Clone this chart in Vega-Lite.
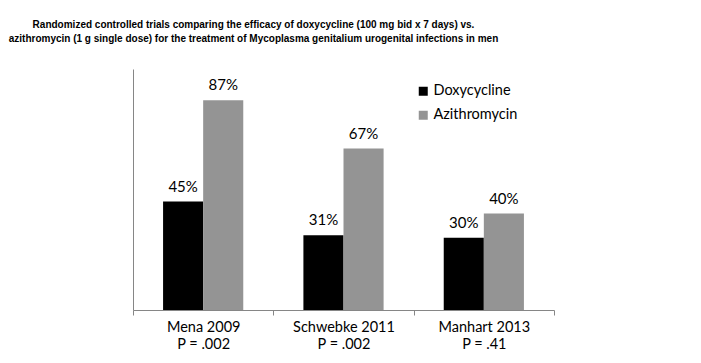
{
  "$schema": "https://vega.github.io/schema/vega-lite/v6.json",
  "autosize": {"type": "none"},
  "width": 421,
  "height": 241,
  "padding": {"left": 133, "top": 69, "right": 147, "bottom": 53},
  "background": "white",
  "title": {
    "text": ["Randomized controlled trials comparing the efficacy of doxycycline (100 mg bid x 7 days) vs.", "azithromycin (1 g single dose) for the treatment of Mycoplasma genitalium urogenital infections in men"],
    "font": "Liberation Sans",
    "fontSize": 10,
    "fontWeight": "bold",
    "color": "#000000",
    "lineHeight": 14,
    "anchor": "middle",
    "frame": "group",
    "dx": -90,
    "offset": 25
  },
  "data": {
    "values": [
      {"study": "Mena 2009", "drug": "Doxycycline", "rate": 0.45},
      {"study": "Mena 2009", "drug": "Azithromycin", "rate": 0.87},
      {"study": "Schwebke 2011", "drug": "Doxycycline", "rate": 0.31},
      {"study": "Schwebke 2011", "drug": "Azithromycin", "rate": 0.67},
      {"study": "Manhart 2013", "drug": "Doxycycline", "rate": 0.30},
      {"study": "Manhart 2013", "drug": "Azithromycin", "rate": 0.40}
    ]
  },
  "encoding": {
    "x": {
      "field": "study",
      "type": "nominal",
      "sort": ["Mena 2009", "Schwebke 2011", "Manhart 2013"],
      "scale": {"paddingInner": 0, "paddingOuter": 0},
      "axis": {
        "title": null,
        "labelAngle": 0,
        "labelFont": "Lato",
        "labelFontSize": 14.5,
        "labelColor": "#000000",
        "labelLineHeight": 17,
        "labelPadding": 5,
        "labelBaseline": "top",
        "labelExpr": "datum.label == 'Mena 2009' ? ['Mena 2009', 'P = .002'] : datum.label == 'Schwebke 2011' ? ['Schwebke 2011', 'P = .002'] : datum.label == 'Manhart 2013' ? ['Manhart 2013', 'P = .41'] : ''",
        "tickBand": "extent",
        "tickSize": 5,
        "tickColor": "#868686",
        "domainColor": "#868686",
        "grid": false
      }
    },
    "xOffset": {
      "field": "drug",
      "type": "nominal",
      "sort": ["Doxycycline", "Azithromycin"],
      "scale": {"paddingInner": 0, "paddingOuter": 0.75}
    },
    "y": {
      "field": "rate",
      "type": "quantitative",
      "scale": {"domain": [0, 1], "nice": false},
      "axis": {
        "title": null,
        "labels": false,
        "ticks": false,
        "grid": false,
        "domainColor": "#868686"
      }
    }
  },
  "layer": [
    {
      "mark": {"type": "bar"},
      "encoding": {
        "color": {
          "field": "drug",
          "type": "nominal",
          "sort": ["Doxycycline", "Azithromycin"],
          "scale": {"domain": ["Doxycycline", "Azithromycin"], "range": ["#000000", "#949494"]},
          "legend": {
            "title": null,
            "orient": "none",
            "legendX": 283,
            "legendY": 15,
            "symbolType": "square",
            "symbolSize": 81,
            "symbolStrokeWidth": 0,
            "labelFont": "Lato",
            "labelFontSize": 14.5,
            "labelColor": "#000000",
            "labelOffset": 3,
            "rowPadding": 9
          }
        }
      }
    },
    {
      "mark": {"type": "text", "baseline": "bottom", "dy": -7, "font": "Lato", "fontSize": 15, "color": "#000000"},
      "encoding": {
        "text": {"field": "rate", "type": "quantitative", "format": ".0%"}
      }
    }
  ],
  "config": {
    "view": {"stroke": null}
  }
}
